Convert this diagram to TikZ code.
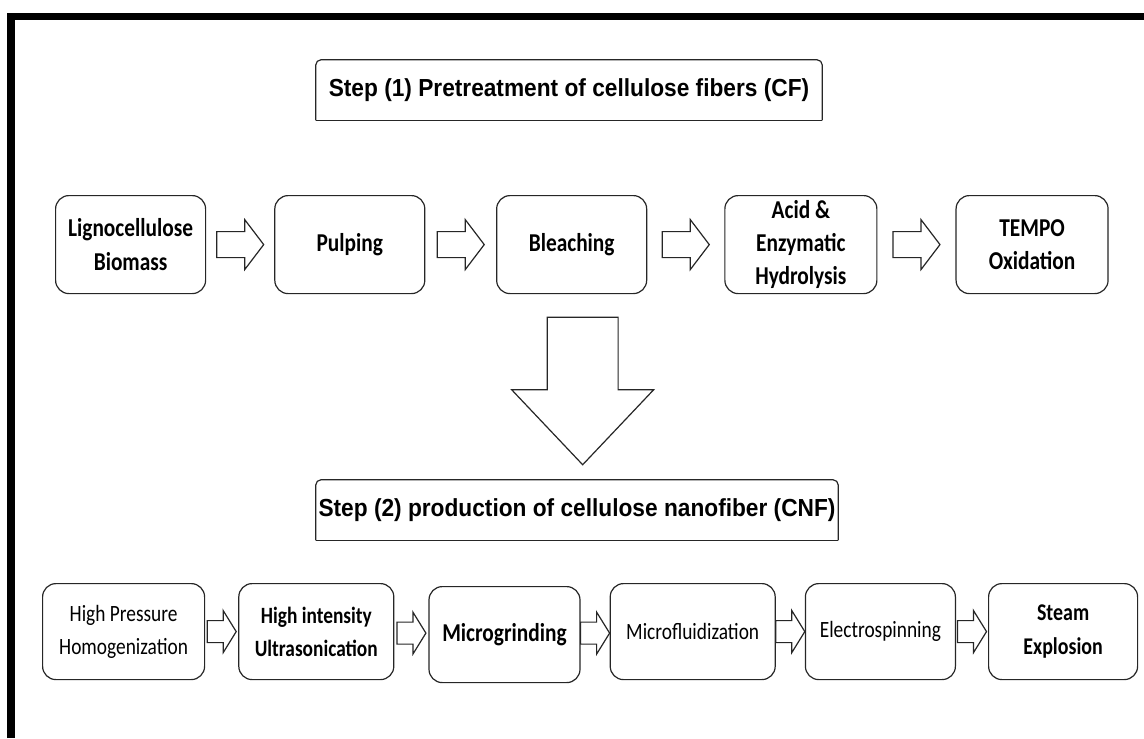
\documentclass[tikz,border=0pt]{standalone}
\usepackage{fontspec}
\setmainfont{Carlito}[FakeStretch=0.83]
\newfontfamily\headfont{Liberation Sans}[FakeStretch=0.92]
\usetikzlibrary{positioning,calc}

% hollow block arrow between two boxes: from, to, length, shaft half, head half, head length
\newcommand{\blockarrow}[6]{%
  \draw[blockarrow] let \p1=($(#1.east)!0.5!(#2.west)$) in
    ({\x1-#3/2},{\y1+#4}) -- ({\x1+#3/2-#6},{\y1+#4}) -- ({\x1+#3/2-#6},{\y1+#5})
    -- ({\x1+#3/2},\y1) -- ({\x1+#3/2-#6},{\y1-#5}) -- ({\x1+#3/2-#6},{\y1-#4})
    -- ({\x1-#3/2},{\y1-#4}) -- cycle;}

\tikzset{
  proc/.style={draw=black!85, line width=0.9pt, rounded corners=10pt, fill=white,
               align=center, inner xsep=2pt, inner ysep=0pt},
  rowone/.style={proc, minimum width=112.5pt, minimum height=73.5pt,
                 font=\fontsize{19.3}{25}\selectfont\bfseries},
  rowtwo/.style={proc, minimum height=72pt, font=\fontsize{17.5}{25}\selectfont},
  heavy/.style={font=\fontsize{17.5}{25}\selectfont\bfseries},
  head/.style={minimum height=45pt, inner xsep=0pt,
               font=\headfont\fontsize{18.5}{20}\selectfont\bfseries},
  headline/.style={draw=black!85, line width=0.9pt},
  blockarrow/.style={draw=black!85, line width=0.9pt, fill=white, line join=miter},
}

\begin{document}
\begin{tikzpicture}[x=0.75pt, y=-0.75pt]
  \useasboundingbox (0,0) rectangle (1144,738);

  % frame
  \draw[line width=5.6pt] (11.2,738) -- (11.2,16.3) -- (1144,16.3);

  % step 1
  \node[head, minimum width=379.5pt] (step1) at (569,90)
    {Step (1) Pretreatment of cellulose fibers (CF)};
  \draw[headline, rounded corners=4pt] (step1.south west) -- (step1.north west)
    -- (step1.north east) -- (step1.south east);
  \draw[headline] (step1.south west) -- (step1.south east);

  \node[rowone, anchor=north west] (lig) at (55,195) {Lignocellulose\\Biomass};
  \node[rowone, right=51pt of lig] (pulp) {Pulping};
  \node[rowone, right=53pt of pulp] (bleach) {Bleaching};
  \node[rowone, right=57.75pt of bleach, minimum width=114pt] (hydro)
    {Acid \&\\Enzymatic\\Hydrolysis};
  \node[rowone, right=58.5pt of hydro, minimum width=114pt] (tempo) {TEMPO\\Oxidation};

  \blockarrow{lig}{pulp}{35.25pt}{9.75pt}{18.75pt}{14.25pt}
  \blockarrow{pulp}{bleach}{35.25pt}{9.75pt}{18.75pt}{14.25pt}
  \blockarrow{bleach}{hydro}{35.25pt}{9.75pt}{18.75pt}{14.25pt}
  \blockarrow{hydro}{tempo}{35.25pt}{9.75pt}{18.75pt}{14.25pt}

  % step 2
  \node[head, minimum width=391.5pt] (step2) at (577,510)
    {Step (2) production of cellulose nanofiber (CNF)};
  \draw[headline, rounded corners=4pt] (step2.south west) -- (step2.north west)
    -- (step2.north east) -- (step2.south east);
  \draw[headline] (step2.south west) -- (step2.south east);

  % big arrow between the steps
  \draw[blockarrow] let \p1=(bleach.south), \p2=(step2.north) in
    ({\x1-18.35pt},{\y1-17.25pt}) -- ({\x1+34.85pt},{\y1-17.25pt})
    -- ({\x1+34.85pt},{\y2+67.5pt}) -- ({\x1+61.5pt},{\y2+67.5pt})
    -- ({\x1+8.25pt},{\y2+11.25pt}) -- ({\x1-45pt},{\y2+67.5pt})
    -- ({\x1-18.35pt},{\y2+67.5pt}) -- cycle;

  \node[rowtwo, anchor=north west, minimum width=121.5pt] (hph) at (42,583)
    {High Pressure\\Homogenization};
  \node[rowtwo, heavy, right=24.75pt of hph, minimum width=116.25pt] (hiu)
    {High intensity\\Ultrasonication};
  \node[rowtwo, right=25.5pt of hiu, minimum width=113.25pt, yshift=-2.25pt,
        font=\fontsize{19.3}{25}\selectfont\bfseries] (mgr) {Microgrinding};
  \node[rowtwo, right=21.75pt of mgr, minimum width=123.75pt, yshift=2.25pt] (mfl)
    {Microfluidization};
  \node[rowtwo, right=21.75pt of mfl, minimum width=112.5pt] (esp) {Electrospinning};
  \node[rowtwo, heavy, right=24pt of esp, minimum width=111.75pt,
        font=\fontsize{18}{25}\selectfont\bfseries] (sex) {Steam\\Explosion};

  \blockarrow{hph}{hiu}{21.75pt}{8.25pt}{15.75pt}{9.75pt}
  \blockarrow{hiu}{mgr}{21.75pt}{8.25pt}{15.75pt}{9.75pt}
  \blockarrow{mgr}{mfl}{21.75pt}{8.25pt}{15.75pt}{9.75pt}
  \blockarrow{mfl}{esp}{21.75pt}{8.25pt}{15.75pt}{9.75pt}
  \blockarrow{esp}{sex}{21.75pt}{8.25pt}{15.75pt}{9.75pt}
\end{tikzpicture}
\end{document}
